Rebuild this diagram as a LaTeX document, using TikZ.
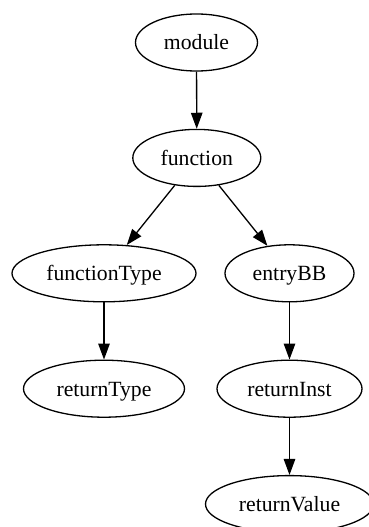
\documentclass[tikz,border=0pt]{standalone}
\usepackage{fontspec}
\setmainfont{Liberation Serif}
\usetikzlibrary{shapes.geometric,arrows.meta}

\begin{document}
\begin{tikzpicture}[x=1pt,y=-1pt,
  gnode/.style={draw,ellipse,line width=1.3pt,inner sep=0pt,
    minimum height=57pt,text height=20pt,text depth=5pt,
    font=\fontsize{21.7}{26}\selectfont},
  gedge/.style={line width=1.3pt,-{Triangle[length=16pt,width=11.5pt]}}]
  \useasboundingbox (0,0) rectangle (369,527);
  \clip (0,0) rectangle (369,527);

  % nodes, one rank every 115.4 units
  \node[gnode,minimum width=122pt] (module)       at (196.5,42.5)  {module};
  \node[gnode,minimum width=128pt] (function)     at (196.8,157.9) {function};
  \node[gnode,minimum width=184pt] (functionType) at (104,273.3)   {functionType};
  \node[gnode,minimum width=129pt] (entryBB)      at (289.5,273.3) {entryBB};
  \node[gnode,minimum width=161pt] (returnType)   at (104,388.7)   {returnType};
  \node[gnode,minimum width=145pt] (returnInst)   at (289.5,388.7) {returnInst};
  \node[gnode,minimum width=168pt] (returnValue)  at (289.5,504.1) {returnValue};

  % edges
  \draw[gedge] (module) -- (function);
  \draw[gedge] (function) -- (functionType);
  \draw[gedge] (function) -- (entryBB);
  \draw[gedge] (functionType) -- (returnType);
  \draw[gedge] (entryBB) -- (returnInst);
  \draw[gedge] (returnInst) -- (returnValue);
\end{tikzpicture}
\end{document}
